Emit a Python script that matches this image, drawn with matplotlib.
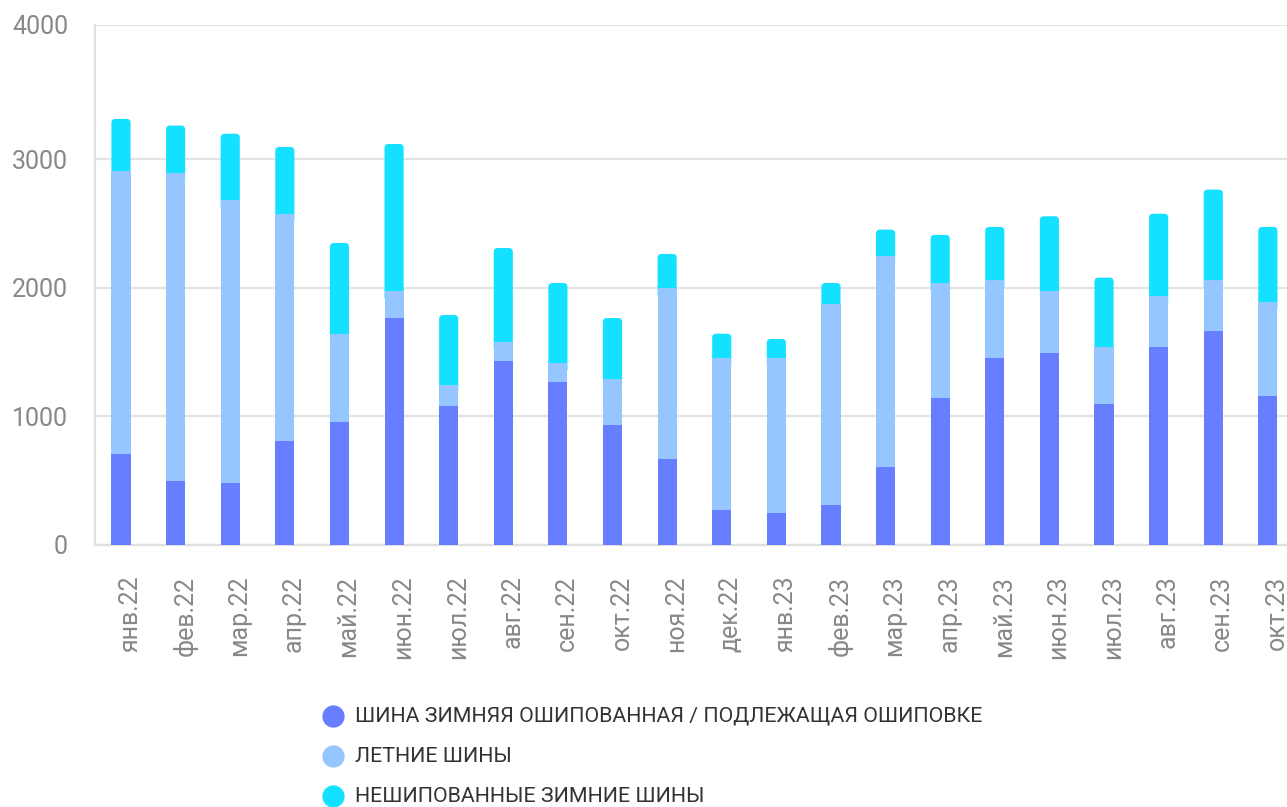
import matplotlib
matplotlib.use("Agg")
import matplotlib.pyplot as plt
import matplotlib.transforms as mtransforms
from matplotlib.patches import FancyBboxPatch
from matplotlib.lines import Line2D
import numpy as np

plt.rcParams['font.family'] = ['Roboto', 'DejaVu Sans']

months = ["янв.22", "фев.22", "мар.22", "апр.22", "май.22", "июн.22", "июл.22",
          "авг.22", "сен.22", "окт.22", "ноя.22", "дек.22", "янв.23", "фев.23",
          "мар.23", "апр.23", "май.23", "июн.23", "июл.23", "авг.23", "сен.23", "окт.23"]

studded = [708, 500, 482, 809, 959, 1765, 1081, 1431, 1268, 933, 669, 272,
           251, 311, 607, 1143, 1454, 1493, 1096, 1540, 1664, 1159]
summer = [2200, 2390, 2198, 1767, 684, 210, 166, 150, 147, 358, 1327, 1185,
          1206, 1561, 1638, 894, 604, 482, 444, 394, 394, 733]
nonstudded = [405, 371, 518, 519, 705, 1143, 541, 728, 622, 474, 267, 186,
              145, 165, 207, 374, 415, 581, 539, 642, 705, 581]

labels = ["ШИНА ЗИМНЯЯ ОШИПОВАННАЯ / ПОДЛЕЖАЩАЯ ОШИПОВКЕ",
          "ЛЕТНИЕ ШИНЫ",
          "НЕШИПОВАННЫЕ ЗИМНИЕ ШИНЫ"]
colors = ["#667EFF", "#96C6FF", "#13E1FF"]
yticks = [0, 1000, 2000, 3000, 4000]
ytop = 4043  # axis top, where the "4000" line sits in the reference

W, H = 1287, 807
fig = plt.figure(figsize=(W / 100, H / 100), dpi=100)
ax = fig.add_axes([94.5 / W, (H - 545) / H, 1 - 94.5 / W, (545 - 25) / H])

x = np.arange(len(months))
s = np.array(studded)
m = np.array(summer)
n = np.array(nonstudded)
bw = 0.35

ax.set_xlim(-0.485, len(months) - 1 + 0.35)
ax.set_ylim(0, ytop)

top_bars = ax.bar(x, n, bw, bottom=s + m, color=colors[2], zorder=2, linewidth=0)
ax.bar(x, m, bw, bottom=s, color=colors[1], zorder=3, linewidth=0)
ax.bar(x, s, bw, color=colors[0], zorder=4, linewidth=0)

# rounded top corners for the top segment
fig.canvas.draw()
inv = ax.transData.inverted()
px_x = (inv.transform((1, 0)) - inv.transform((0, 0)))[0]
px_y = (inv.transform((0, 1)) - inv.transform((0, 0)))[1]
r_px = 4
for p in top_bars.patches:
    x0, y0 = p.get_x(), p.get_y()
    w, h = p.get_width(), p.get_height()
    ext = 10 * px_y
    fb = FancyBboxPatch((x0, y0 - ext), w, h + ext,
                        boxstyle=f"round,pad=0,rounding_size={r_px * px_x}",
                        mutation_aspect=px_y / px_x,
                        facecolor=colors[2], edgecolor='none', zorder=2)
    ax.add_patch(fb)
    p.set_visible(False)

ax.set_yticks(yticks[:-1] + [ytop])
ax.set_yticklabels([str(v) for v in yticks])
ax.set_xticks(x)
ax.set_xticklabels(months, rotation=90, ha='left', va='top')
ax.tick_params(axis='y', length=0, pad=19, labelsize=18, labelcolor='#888888')
ax.tick_params(axis='x', length=0, pad=22, labelsize=18, labelcolor='#888888')
offset = mtransforms.ScaledTranslation(-3 / 100, 0, fig.dpi_scale_trans)
for lbl in ax.get_xticklabels():
    lbl.set_transform(lbl.get_transform() + offset)

ax.grid(axis='y', color='#e3e3e3', linewidth=1.6, zorder=0)
ax.set_axisbelow(True)
for side in ['top', 'right']:
    ax.spines[side].set_visible(False)
for side in ['left', 'bottom']:
    ax.spines[side].set_color('#e0e0e0')
    ax.spines[side].set_linewidth(1.6)

# legend
ys = [716, 756, 796]
for lab, col, yy in zip(labels, colors, ys):
    fig.add_artist(Line2D([333 / W], [1 - yy / H], marker='o', markersize=15,
                          color=col, linestyle='', transform=fig.transFigure))
    fig.text(355 / W, 1 - yy / H, lab, fontsize=15.4, color='#333333',
             va='center', ha='left')

fig.savefig("out.png", dpi=100)
